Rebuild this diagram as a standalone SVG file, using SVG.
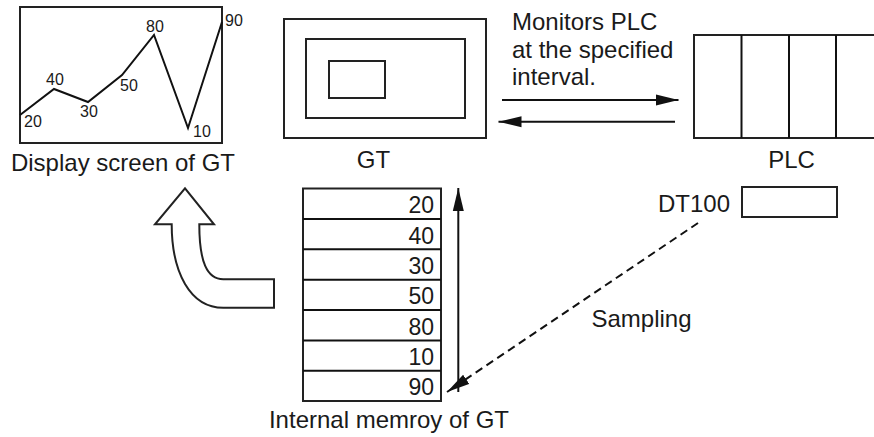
<svg xmlns="http://www.w3.org/2000/svg" width="874" height="437" viewBox="0 0 874 437">
  <style>
    .box { fill: #fff; stroke: #222; stroke-width: 2; }
    .ln { fill: none; stroke: #111; stroke-width: 2; }
    .t { font-family: "Liberation Sans", Arial, sans-serif; font-size: 24px; fill: #1a1a1a; }
    .s { font-family: "Liberation Sans", Arial, sans-serif; font-size: 16px; fill: #1a1a1a; }
    .m { font-family: "Liberation Sans", Arial, sans-serif; font-size: 23px; fill: #1a1a1a; text-anchor: end; }
  </style>
  <defs>
    <marker id="ah" markerUnits="userSpaceOnUse" markerWidth="24" markerHeight="12" refX="23" refY="6" orient="auto">
      <path d="M0,0.5 L23,6 L0,11.5 Z" fill="#111"/>
    </marker>
  </defs>
  <rect width="874" height="437" fill="#fff"/>

  <g id="display-screen">
    <rect class="box" x="20" y="7" width="202" height="136"/>
    <polyline class="ln" points="20,115 54,89 88,102 122,75 154,35 188,128 222,22"/>
    <text class="s" x="24" y="127">20</text>
    <text class="s" x="46" y="85">40</text>
    <text class="s" x="80" y="117">30</text>
    <text class="s" x="120" y="91">50</text>
    <text class="s" x="146" y="32">80</text>
    <text class="s" x="193" y="137">10</text>
    <text class="s" x="225" y="26">90</text>
    <text class="t" x="123" y="171" text-anchor="middle">Display screen of GT</text>
  </g>

  <g id="gt">
    <rect class="box" x="284" y="19" width="202" height="119"/>
    <rect class="box" x="306" y="39" width="159" height="79"/>
    <rect class="box" x="329" y="61" width="56" height="37"/>
    <text class="t" x="373.5" y="168" text-anchor="middle">GT</text>
  </g>

  <g id="plc">
    <rect class="box" x="694" y="35" width="190" height="103"/>
    <line class="ln" x1="741.5" y1="35" x2="741.5" y2="138"/>
    <line class="ln" x1="789" y1="35" x2="789" y2="138"/>
    <line class="ln" x1="836" y1="35" x2="836" y2="138"/>
    <text class="t" x="791.5" y="168" text-anchor="middle">PLC</text>
  </g>

  <g id="dt100">
    <text class="t" x="730" y="212" text-anchor="end">DT100</text>
    <rect class="box" x="742" y="187" width="95" height="30"/>
  </g>

  <g id="monitor-label">
    <text class="t" x="512" y="30">Monitors PLC</text>
    <text class="t" x="512" y="57.5">at the specified</text>
    <text class="t" x="512" y="85">interval.</text>
  </g>

  <g id="internal-memory">
    <rect class="box" x="303" y="188.5" width="138" height="212.5"/>
    <line class="ln" x1="303" y1="219" x2="441" y2="219"/>
    <line class="ln" x1="303" y1="249.3" x2="441" y2="249.3"/>
    <line class="ln" x1="303" y1="279.7" x2="441" y2="279.7"/>
    <line class="ln" x1="303" y1="310" x2="441" y2="310"/>
    <line class="ln" x1="303" y1="340.4" x2="441" y2="340.4"/>
    <line class="ln" x1="303" y1="370.7" x2="441" y2="370.7"/>
    <text class="m" x="434" y="213">20</text>
    <text class="m" x="434" y="243.5">40</text>
    <text class="m" x="434" y="274">30</text>
    <text class="m" x="434" y="304">50</text>
    <text class="m" x="434" y="334.5">80</text>
    <text class="m" x="434" y="365">10</text>
    <text class="m" x="434" y="395">90</text>
    <text class="t" x="389" y="428" text-anchor="middle">Internal memroy of GT</text>
  </g>

  <g id="sampling-label">
    <text class="t" x="591.5" y="327">Sampling</text>
  </g>

  <g id="block-arrow">
    <path class="box" d="M274,279.3 L223.3,279.3 C207,279.3 199.3,262 199.3,224.3 L214,224.3 L185,188.3 L155,224.3 L171.7,224.3 C171.7,272 190,307.7 223.3,307.7 L274,307.7 Z"/>
  </g>

  <g id="connectors">
    <line class="ln" x1="502" y1="100" x2="678.5" y2="100" marker-end="url(#ah)"/>
    <line class="ln" x1="675" y1="121.7" x2="498.5" y2="121.7" marker-end="url(#ah)"/>
    <line class="ln" x1="458.3" y1="392" x2="458.3" y2="188" marker-end="url(#ah)"/>
    <line class="ln" x1="698" y1="223" x2="460" y2="383.2" stroke-dasharray="8 5" stroke-width="2.5"/>
    <line class="ln" x1="462" y1="382" x2="447" y2="392" marker-end="url(#ah)"/>
  </g>
</svg>
